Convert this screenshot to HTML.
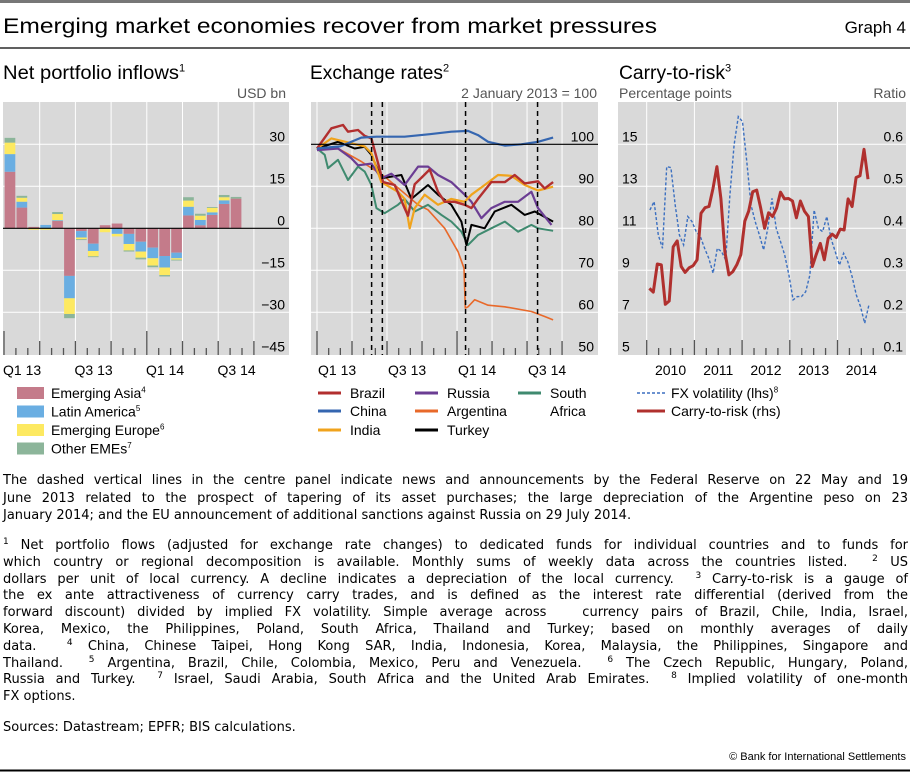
<!DOCTYPE html>
<html><head><meta charset="utf-8">
<style>
body{margin:0;background:#fff;width:910px;height:772px;overflow:hidden;position:relative;font-family:"Liberation Sans",sans-serif}
svg{position:absolute;left:0;top:0}
.fn{position:absolute;left:3px;width:905px;font-family:"DejaVu Sans",sans-serif;font-size:13px;line-height:17px;white-space:nowrap;color:#000}
.j{text-align:justify;text-align-last:justify;white-space:normal}
sup{font-size:9px;vertical-align:5px;line-height:0}
</style></head><body>
<svg id="chart" width="910" height="772" xmlns="http://www.w3.org/2000/svg" font-family="Liberation Sans, sans-serif">
<rect x="0" y="0" width="910" height="3" fill="#777"/>
<text x="3" y="33" font-size="21" textLength="654" lengthAdjust="spacingAndGlyphs">Emerging market economies recover from market pressures</text>
<text x="906" y="33" font-size="17" text-anchor="end">Graph 4</text>
<line x1="0" y1="48" x2="910" y2="48" stroke="#000" stroke-width="1.2"/>
<g id="p1"></g>
<g id="p2"></g>
<g id="p3"></g>
<line x1="0" y1="770.5" x2="910" y2="770.5" stroke="#000" stroke-width="2"/>
<text x="906" y="760" font-size="11" text-anchor="end">© Bank for International Settlements</text>
</svg>

<div class="fn" style="top:472px">
<div class="j">The dashed vertical lines in the centre panel indicate news and announcements by the Federal Reserve on 22 May and 19</div>
<div class="j" style="margin-top:0.5px">June 2013 related to the prospect of tapering of its asset purchases; the large depreciation of the Argentine peso on 23</div>
<div style="margin-top:0.5px">January 2014; and the EU announcement of additional sanctions against Russia on 29 July 2014.</div>
</div>
<div class="fn" style="top:538px;line-height:16.8px">
<div class="j"><sup>1</sup> Net portfolio flows (adjusted for exchange rate changes) to dedicated funds for individual countries and to funds for</div>
<div class="j">which country or regional decomposition is available. Monthly sums of weekly data across the countries listed. &nbsp;<sup>2</sup> US</div>
<div class="j">dollars per unit of local currency. A decline indicates a depreciation of the local currency. &nbsp;<sup>3</sup> Carry-to-risk is a gauge of</div>
<div class="j">the ex ante attractiveness of currency carry trades, and is defined as the interest rate differential (derived from the</div>
<div class="j">forward discount) divided by implied FX volatility. Simple average across &nbsp; currency pairs of Brazil, Chile, India, Israel,</div>
<div class="j">Korea, Mexico, the Philippines, Poland, South Africa, Thailand and Turkey; based on monthly averages of daily</div>
<div class="j">data. &nbsp;<sup>4</sup> China, Chinese Taipei, Hong Kong SAR, India, Indonesia, Korea, Malaysia, the Philippines, Singapore and</div>
<div class="j">Thailand. &nbsp;<sup>5</sup> Argentina, Brazil, Chile, Colombia, Mexico, Peru and Venezuela. &nbsp;<sup>6</sup> The Czech Republic, Hungary, Poland,</div>
<div class="j">Russia and Turkey. &nbsp;<sup>7</sup> Israel, Saudi Arabia, South Africa and the United Arab Emirates. &nbsp;<sup>8</sup> Implied volatility of one-month</div>
<div>FX options.</div>
</div>
<div class="fn" style="top:719px">Sources: Datastream; EPFR; BIS calculations.</div>

<script>
// ---------- Panel 1 data ----------
const p1Months = ["Jan13","Feb13","Mar13","Apr13","May13","Jun13","Jul13","Aug13","Sep13","Oct13","Nov13","Dec13","Jan14","Feb14","Mar14","Apr14","May14","Jun14","Jul14","Aug14"];
const asiaVals   = [20.2,7.4,0.5,0,2.6,-17,-1,-5.5,1.1,1.7,-2,-4.8,-6.9,-9.9,-8.7,4.6,1.1,4.8,8.7,10.6];
const latamVals  = [6.3,2.1,0,1.2,0.3,-8,-2.3,-2.6,0,-2,-3.6,-3.5,-3.8,-4.1,-2,3.1,1.9,0.9,1.3,0];
const europeVals = [4.1,1.4,-0.5,-0.5,2.2,-5.6,-0.6,-1.9,-1.4,-0.9,-2.3,-2.2,-2.6,-2.7,-0.5,2.2,1.5,1.6,1.1,0];
const otherVals  = [1.7,0.7,0,0,0.7,-1.5,-0.3,-0.3,0,0,-0.4,-0.6,-0.6,-0.5,-0.3,1.2,0.7,0.3,0.8,0.6];
const p1Ticks = [30,15,0,-15,-30,-45];
const p1XLabels = ["Q1 13","Q3 13","Q1 14","Q3 14"];

// ---------- Panel 2 data ----------
const brazilT = [0,1.23,2.23,2.66,3.51,4.09,4.66,5.09,5.66,6.66,7.51,7.8,8.37,8.94,9.66,10.37,10.94,11.8,12.66,13.23,13.8,14.94,16.09,16.94,17.8,18.94,19.51,20.23];
const brazilV = [99,103.8,104.6,103,103.4,102,101.4,97,91,90.3,84.8,83,90.5,92,94,88.7,86.3,86.3,85.6,84.8,87,91,91,92.7,90.7,91.2,89.5,91];
const chinaT = [0,2,3.8,5.09,7.51,9.66,11.51,12.94,13.8,14.66,16.09,17.51,18.94,20.23];
const chinaV = [99,99.5,101.6,101.8,101.8,102.4,103,103.2,102.2,100.6,99.7,100,100.6,101.6];
const indiaT = [0,1.23,4.09,4.66,5.51,6.94,7.51,7.94,8.37,9.23,10.37,11.51,12.66,13.23,14.37,15.51,16.66,17.8,18.94,20.23];
const indiaV = [99,101.4,99.5,97.9,91,88.7,87,80,84.8,88,85.6,87,86.3,88,90.3,92.7,92.5,90.3,89,89.9];
const russiaT = [0,1.8,2.94,3.51,4.66,5.51,6.37,7.51,8.66,9.51,10.37,11.51,12.66,13.23,14.09,14.94,16.09,17.23,18.37,18.94,20.09];
const russiaV = [98.6,99,96.7,95,95.4,91.9,93,90.3,94.7,94.7,92.7,91,88,86.3,82.4,84.8,86.3,86.3,88.7,84.8,80.8];
const argT = [0,1.8,3.8,5.8,8.66,9.51,10.94,12.09,12.6,12.71,12.94,13.51,14.66,16.09,18.37,19.51,20.23];
const argV = [99,99,95.9,92.3,85.6,84.4,80,74.4,70.5,61,61.3,63,61.7,61.3,60.2,59,58.2];
const turkeyT = [0,1.8,3.23,4.09,4.66,5.51,7.23,8.09,9.51,10.37,11.51,12.37,12.8,13.23,14.37,15.23,16.66,17.8,18.66,20.23];
const turkeyV = [99,100.6,99,99.4,97.5,91.9,92.7,87,90.3,88,85.6,81.6,76,80.8,80,84,85.6,83.2,84,81.6];
const saT = [0,0.66,0.94,1.8,2.66,3.51,4.09,4.66,5.09,5.8,6.94,7.51,8.37,9.51,10.66,11.51,12.37,12.94,13.8,14.94,16.09,17.23,18.37,18.94,20.23];
const saV = [99,97.5,94.3,96.3,91.5,94.7,93.5,90.3,84.8,83.6,85.6,87,84,85.6,83.2,81.6,79.2,76,78.4,80,81.6,79.2,80.8,80,79.4];
const eventT = [4.68,5.6,12.73,18.9];
const p2Ticks = [100,90,80,70,60,50];
const p2XLabels = ["Q1 13","Q3 13","Q1 14","Q3 14"];

// ---------- Panel 3 data ----------
const carryVals = [0.257,0.248,0.315,0.313,0.219,0.227,0.356,0.370,0.309,0.295,0.306,0.311,0.325,0.436,0.449,0.452,0.495,0.547,0.471,0.344,0.289,0.297,0.313,0.337,0.417,0.441,0.487,0.491,0.448,0.400,0.437,0.428,0.448,0.486,0.470,0.471,0.465,0.425,0.465,0.441,0.428,0.309,0.338,0.364,0.325,0.376,0.386,0.378,0.398,0.396,0.470,0.452,0.521,0.525,0.588,0.517];
const fxVolVals = [11.87,12.27,10.68,10.05,13.94,13.89,12.11,10.68,10.21,11.56,11.32,10.84,10.6,10.05,9.57,8.86,10.05,9.89,9.49,12.59,14.97,16.32,16.08,14.17,12.11,11.32,10.68,9.97,11,12.43,11,10.37,9.73,8.78,7.59,7.75,7.75,7.98,8.78,11.87,11,10.84,11.56,10.52,9.89,9.25,9.81,9.41,8.7,7.83,7.27,6.48,7.35];
const p3LeftTicks = [15,13,11,9,7,5];
const p3RightTicks = ["0.6","0.5","0.4","0.3","0.2","0.1"];
const p3Years = ["2010","2011","2012","2013","2014"];

const NS="http://www.w3.org/2000/svg";
function mk(parent,tag,attrs){const e=document.createElementNS(NS,tag);for(const k in attrs)e.setAttribute(k,attrs[k]);parent.appendChild(e);return e;}
function txt(parent,x,y,s,size,anchor,fill){const t=mk(parent,'text',{x:x,y:y,'font-size':size,'text-anchor':anchor||'start',fill:fill||'#000'});t.textContent=s;return t;}
function supTxt(parent,x,y,s,sup,size,len){const t=mk(parent,'text',{x:x,y:y,'font-size':size});
  const a=mk(t,'tspan',len?{textLength:len,lengthAdjust:'spacingAndGlyphs'}:{});a.textContent=s;
  const b=mk(t,'tspan',{dy:-(size*0.4),'font-size':Math.round(size*0.6)});b.textContent=sup;return t;}
const TOP=102, BOT=355;

// ================= Panel 1 =================
(function(){
  const g=document.getElementById('p1');
  const L=3,R=289;
  const y=v=>228.3-v*2.8;
  const x=m=>4+11.9*m;
  let t=supTxt(g,3,79,'Net portfolio inflows','1',19,176);
  
  
  t=txt(g,286,98,'USD bn',14,'end','#555');
  
  
  const bg=mk(g,'rect',{x:L,y:TOP,width:R-L,height:BOT-TOP,fill:'#d9d9d9'});
  
  
  for(let k=1;k<=7;k++){const l=mk(g,'line',{x1:x(3*k),x2:x(3*k),y1:TOP,y2:BOT,stroke:'#fff','stroke-width':1});
    
    }
  p1Ticks.forEach(v=>{ if(v!==0&&v!==-45){const l=mk(g,'line',{x1:L,x2:R,y1:y(v),y2:y(v),stroke:'#fff','stroke-width':1});
    
    }
    const tt=txt(g,285,y(v)-3,v<0?'\u2212'+(-v):String(v),14,'end');
    
    });
  const cols=['#c47b8a','#6aaee2','#fde961','#8cb59a'];
  const series=[asiaVals,latamVals,europeVals,otherVals];
  const names=['asia','latam','europe','other'];
  p1Months.forEach((mo,i)=>{
    let pos=0,neg=0;
    series.forEach((arr,si)=>{
      const v=arr[i]; if(!v) return;
      let y0,y1;
      if(v>0){y0=y(pos+v);y1=y(pos);pos+=v;}else{y0=y(neg);y1=y(neg+v);neg+=v;}
      const r=mk(g,'rect',{x:x(i)+0.6,y:y0,width:10.7,height:Math.max(0.5,y1-y0),fill:cols[si]});
      
      
    });
  });
  const z=mk(g,'line',{x1:L,x2:R,y1:y(0),y2:y(0),stroke:'#000','stroke-width':1.2});
  
  
  for(let m=0;m<=21;m++){const h=m%12===0?24:(m%3===0?14:7);
    const l=mk(g,'line',{x1:x(m),x2:x(m),y1:BOT,y2:BOT-h,stroke:'#555','stroke-width':1.3});
    
    }
  p1XLabels.forEach((s,i)=>{const tt=txt(g,3+i*71.5,375,s,14);
    
    });
  const leg=[['Emerging Asia','4'],['Latin America','5'],['Emerging Europe','6'],['Other EMEs','7']];
  leg.forEach((d,i)=>{const yy=393+i*18.5;
    const r=mk(g,'rect',{x:17,y:yy-6,width:27,height:12,fill:cols[i]});
    
    
    const tt=supTxt(g,51,yy+5,d[0],d[1],14);
    
    
  });
})();

// ================= Panel 2 =================
(function(){
  const g=document.getElementById('p2');
  const L=311,R=598;
  const y=v=>144.3-(v-100)*4.2;
  const x=t=>317+11.67*t;
  let t=supTxt(g,310,79,'Exchange rates','2',19,133);
  
  
  t=txt(g,597,98,'2 January 2013 = 100',14,'end','#555');
  
  
  const bg=mk(g,'rect',{x:L,y:TOP,width:R-L,height:BOT-TOP,fill:'#d9d9d9'});
  
  
  for(let k=0;k<=7;k++){const l=mk(g,'line',{x1:x(3*k),x2:x(3*k),y1:TOP,y2:BOT,stroke:'#fff','stroke-width':1});
    
    }
  p2Ticks.forEach(v=>{ if(v!==100&&v!==50){const l=mk(g,'line',{x1:L,x2:R,y1:y(v),y2:y(v),stroke:'#fff','stroke-width':1});
    
    }
    const tt=txt(g,594,y(v)-3,String(v),14,'end');
    
    });
  for(let m=0;m<=21;m++){const h=m%12===0?24:(m%3===0?14:7);
    const l=mk(g,'line',{x1:x(m),x2:x(m),y1:BOT,y2:BOT-h,stroke:'#555','stroke-width':1.3});
    
    }
  const ser=[['argentina',argT,argV,'#e8692a',1.6],['south-africa',saT,saV,'#3f8a6f',2],['turkey',turkeyT,turkeyV,'#000',2],['russia',russiaT,russiaV,'#6b3d93',2.2],['india',indiaT,indiaV,'#f0a31c',2.2],['brazil',brazilT,brazilV,'#b22f2f',2.4],['china',chinaT,chinaV,'#3566b0',2.2]];
  ser.forEach(s=>{const pts=s[1].map((tt,i)=>x(tt).toFixed(1)+','+y(s[2][i]).toFixed(1)).join(' ');
    const p=mk(g,'polyline',{points:pts,fill:'none',stroke:s[3],'stroke-width':s[4],'stroke-linejoin':'round'});
    
    });
  const hl=mk(g,'line',{x1:L,x2:R,y1:y(100),y2:y(100),stroke:'#000','stroke-width':1.2});
  
  
  eventT.forEach(e=>{const l=mk(g,'line',{x1:x(e),x2:x(e),y1:TOP,y2:BOT,stroke:'#000','stroke-width':1.5,'stroke-dasharray':'5,4'});
    
    });
  p2XLabels.forEach((s,i)=>{const tt=txt(g,318+i*70,375,s,14);
    
    });
  const leg=[['Brazil','#b22f2f',318,393],['China','#3566b0',318,411],['India','#f0a31c',318,430],['Russia','#6b3d93',415,393],['Argentina','#e8692a',415,411],['Turkey','#000',415,430],['South','#3f8a6f',518,393]];
  leg.forEach(d=>{const l=mk(g,'line',{x1:d[2],x2:d[2]+23,y1:d[3],y2:d[3],stroke:d[1],'stroke-width':3});
    
    
    const tt=txt(g,d[2]+32,d[3]+5,d[0],14);
    
    });
  const a=txt(g,550,416,'Africa',14);
  
  
})();

// ================= Panel 3 =================
(function(){
  const g=document.getElementById('p3');
  const L=618,R=906;
  const yl=v=>144.3+(15-v)*21;
  const yr=v=>144.3+(0.6-v)*420;
  const x=m=>646.7+3.975*m;
  let t=supTxt(g,619,79,'Carry-to-risk','3',19,106);
  
  
  t=txt(g,619,98,'Percentage points',14,'start','#555');
  
  
  t=txt(g,906,98,'Ratio',14,'end','#555');
  
  
  const bg=mk(g,'rect',{x:L,y:TOP,width:R-L,height:BOT-TOP,fill:'#d9d9d9'});
  
  
  for(let k=0;k<=4;k++){const l=mk(g,'line',{x1:x(12*k),x2:x(12*k),y1:TOP,y2:BOT,stroke:'#fff','stroke-width':1});
    
    }
  p3LeftTicks.forEach((v,i)=>{ if(v!==5){const l=mk(g,'line',{x1:L,x2:R,y1:yl(v),y2:yl(v),stroke:'#fff','stroke-width':1});
    
    }
    const a=txt(g,622,yl(v)-3,String(v),14);
    
    
    const b=txt(g,903,yl(v)-3,p3RightTicks[i],14,'end');
    
    });
  for(let m=0;m<=57;m+=3){const h=m%12===0?15:7;
    const l=mk(g,'line',{x1:x(m),x2:x(m),y1:BOT,y2:BOT-h,stroke:'#555','stroke-width':1.3});
    
    }
  const n1=fxVolVals.length;
  const fx=fxVolVals.map((v,i)=>x(0.8+i*(55.1/(n1-1))).toFixed(1)+','+yl(v).toFixed(1)).join(' ');
  const p1=mk(g,'polyline',{points:fx,fill:'none',stroke:'#3b6fc0','stroke-width':1.4,'stroke-dasharray':'3,2'});
  
  
  const cr=carryVals.map((v,i)=>x(0.67+i).toFixed(1)+','+yr(v).toFixed(1)).join(' ');
  const p2=mk(g,'polyline',{points:cr,fill:'none',stroke:'#b0302e','stroke-width':3,'stroke-linejoin':'round'});
  
  
  p3Years.forEach((s,i)=>{const tt=txt(g,x(12*i+6),375,s,14,'middle');
    
    });
  const l1=mk(g,'line',{x1:637,x2:665,y1:393,y2:393,stroke:'#3b6fc0','stroke-width':1.4,'stroke-dasharray':'3,2'});
  
  
  let tt=supTxt(g,671,398,'FX volatility (lhs)','8',14);
  
  
  const l2=mk(g,'line',{x1:637,x2:665,y1:411,y2:411,stroke:'#b0302e','stroke-width':3});
  
  
  tt=txt(g,671,416,'Carry-to-risk (rhs)',14);
  
  
})();
</script>
</body></html>
